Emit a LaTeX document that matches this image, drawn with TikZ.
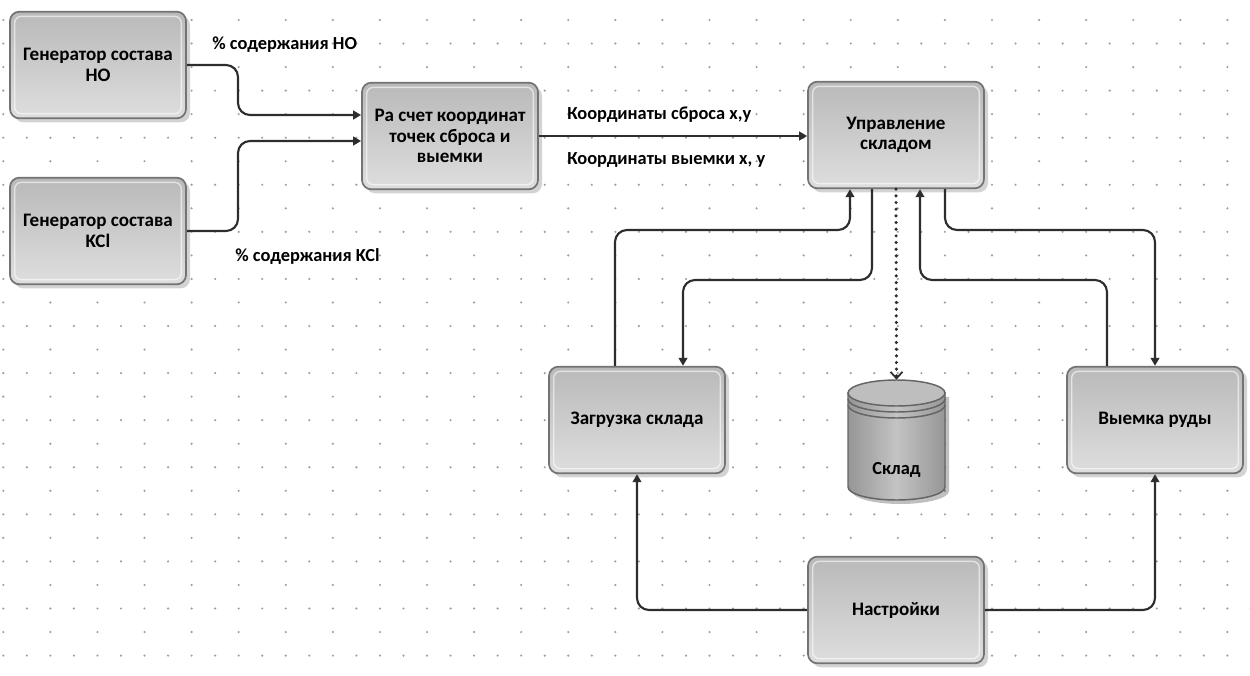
\documentclass[tikz,border=0pt]{standalone}
\usepackage{fontspec}
\setmainfont{Carlito}
\usepackage{tikz}
\usetikzlibrary{arrows.meta,shadows}

\tikzset{
  block/.style={rectangle, rounded corners=7pt, draw={rgb,255:red,115;green,115;blue,115}, line width=1.3pt,
    top color={rgb,255:red,185;green,185;blue,185}, bottom color={rgb,255:red,222;green,222;blue,222},
    minimum width=132pt, minimum height=80pt, align=center, font=\bfseries\fontsize{14.3}{15.5}\selectfont,
    drop shadow={opacity=0.35, shadow xshift=3pt, shadow yshift=-3pt},
    path picture={\draw[white, opacity=0.6, line width=1pt, rounded corners=5pt]
      ([shift={(3.5pt,-3.5pt)}]path picture bounding box.north west) rectangle
      ([shift={(-3.5pt,3.5pt)}]path picture bounding box.south east);}},
  conn/.style={draw={rgb,255:red,45;green,45;blue,45}, line width=1.6pt, rounded corners=9pt},
  arr/.style={conn, -{Triangle[length=6pt,width=6.5pt]}},
  lbl/.style={font=\bfseries\fontsize{13.8}{15.5}\selectfont, anchor=west, inner sep=0pt},
  cylline/.style={draw={rgb,255:red,100;green,100;blue,100}, line width=1.1pt},
}

\begin{document}
\begin{tikzpicture}
[x=0.75pt,y=0.75pt,yscale=-1,xscale=1]
\useasboundingbox (0,0) rectangle (1250,675);

% dot grid
\foreach \k in {0,...,27} {
  \pgfmathsetmacro\yy{20+\k*23.54}
  \pgfmathtruncatemacro\st{2-mod(\k,2)}
  \foreach \j in {0,\st,...,53} {
    \fill[gray!75] ({3.3+\j*23.54},\yy) circle[radius=1.2];
  }
}

\node [block] (genHO) at (98,65) {Генератор состава\\НО};
\node [block] (genKCl) at (98,231) {Генератор состава\\KCl};
\node [block] (raschet) at (450,136) {Ра счет координат\\точек сброса и\\выемки};
\node [block] (upr) at (896,135) {Управление\\складом};
\node [block] (zagr) at (637,420) {Загрузка склада};
\node [block] (vyem) at (1155,420) {Выемка руды};
\node [block] (nastr) at (896,610) {Настройки};

% storage cylinder
\node [inner sep=0pt, minimum width=72.75pt, minimum height=90pt] (sklad) at (896.5,440) {};
\fill [black, opacity=0.25] (852,397) -- (852,491) arc[start angle=180, end angle=0, x radius=48.5, y radius=13] -- (949,397) -- cycle;
\draw [cylline, left color={rgb,255:red,150;green,150;blue,150}, right color={rgb,255:red,150;green,150;blue,150},
  middle color={rgb,255:red,195;green,195;blue,195}]
  (848,393) -- (848,487) arc[start angle=180, end angle=0, x radius=48.5, y radius=13] -- (945,393) -- cycle;
\draw [cylline, fill={rgb,255:red,190;green,190;blue,190}] (896.5,393) ellipse[x radius=48.5, y radius=13];
\draw [cylline] (848,399) arc[start angle=180, end angle=0, x radius=48.5, y radius=13];
\draw [cylline] (848,405) arc[start angle=180, end angle=0, x radius=48.5, y radius=13];
\node [lbl, anchor=center] (skladText) at (896.5,470) {Склад};

% labels
\node [lbl] (pHO) at (212,45) {\% содержания НО};
\node [lbl] (pKCl) at (235,257) {\% содержания KCl};
\node [lbl] (kSbros) at (567,115) {Координаты сброса x,y};
\node [lbl] (kVyem) at (567,160) {Координаты выемки x, y};

% connectors
\draw [arr] (genHO.east) -- (238,65) -- (238,115) -- (raschet.west |- 238,115);
\draw [arr] (genKCl.east) -- (238,231) -- (238,141) -- (raschet.west |- 238,141);
\draw [arr] (raschet.east) -- (upr.west |- raschet.east);
\draw [arr] (615,0 |- zagr.north) -- (615,230) -- (850,230) -- (850,0 |- upr.south);
\draw [arr] (872,0 |- upr.south) -- (872,280) -- (683,280) -- (683,0 |- zagr.north);
\draw [arr] (1107,0 |- vyem.north) -- (1107,280) -- (920,280) -- (920,0 |- upr.south);
\draw [arr] (945,0 |- upr.south) -- (945,230) -- (1155,230) -- (vyem.north);
\draw [conn, rounded corners=0pt, line cap=round, dash pattern=on 0pt off 5pt, line width=2.6pt,
  -{Straight Barb[length=5pt,width=9pt,line cap=butt,line width=1.3pt]}] (upr.south) -- (sklad.north);
\draw [arr] (nastr.west) -| (zagr.south);
\draw [arr] (nastr.east) -| (vyem.south);

\end{tikzpicture}
\end{document}
